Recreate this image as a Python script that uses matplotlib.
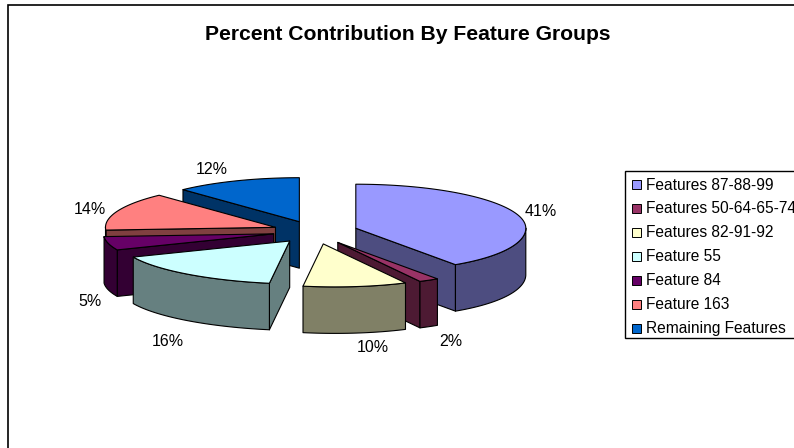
import numpy as np
import matplotlib
matplotlib.use("Agg")
from matplotlib import pyplot as plt
from matplotlib.patches import Polygon, Rectangle

plt.rcParams['font.family'] = ['Liberation Sans', 'DejaVu Sans']

labels = ["Features 87-88-99", "Features 50-64-65-74", "Features 82-91-92", "Feature 55",
          "Feature 84", "Feature 163", "Remaining Features"]
percents = [41, 2, 10, 16, 5, 14, 12]

colors = ["#9999FF", "#993366", "#FFFFCC", "#CCFFFF", "#660066", "#FF8080", "#0066CC"]
label_pos = [(541, 211), (451, 341), (373, 347), (168, 341), (90, 301), (90, 209), (212, 169)]

# pie geometry in pixels
cx, cy = 315, 231
rx, ry = 170, 44
depth = 46.5
explode = 0.25
explode_back, explode_front = 10, 13
front_skew = 12
front_drop = -1


def rim(theta):
    # point on the ellipse relative to the slice apex, front part leans right
    u, v = np.sin(theta), np.cos(theta)
    lean = np.minimum(v, 0) ** 2
    return rx * u + front_skew * lean, -ry * v + front_drop * lean


def darker(col):
    rgb = np.array(matplotlib.colors.to_rgb(col))
    return tuple(rgb * 0.5)


fig = plt.figure(figsize=(7.94, 4.48), dpi=100)
ax = fig.add_axes([0, 0, 1, 1])
ax.set_xlim(0, 794)
ax.set_ylim(448, 0)
ax.axis("off")

# chart frame, only top and left are inside the picture
ax.plot([7.5, 7.5, 794], [448, 5, 5], color="black", lw=1.2, solid_joinstyle="miter")

ax.text(408, 35, "Percent Contribution By Feature Groups", ha="center", va="center",
        fontsize=15.2, fontweight="bold")

fractions = np.array(percents) / sum(percents)
ends = np.cumsum(fractions) * 2 * np.pi
starts = ends - fractions * 2 * np.pi
mids = (starts + ends) / 2

# back slices first
order = np.argsort(-np.cos(mids))
for z, i in enumerate(order):
    t0, t1 = starts[i], ends[i]
    ox, _ = rim(mids[i])
    vm = np.cos(mids[i])
    ax0 = cx + explode * ox
    ay0 = cy - vm * (explode_back if vm > 0 else explode_front)
    n = max(int((t1 - t0) * 40), 4)
    th = np.linspace(t0, t1, n)
    xr, yr = rim(th)
    xr = xr + ax0
    yr = yr + ay0
    dark = darker(colors[i])
    style = dict(ec="black", lw=0.8, joinstyle="round", zorder=z + 2)

    # cut faces, only the ones turned towards us
    visible = []
    if np.sin(t0) < -1e-6:
        visible.append(0)
    if np.sin(t1) > 1e-6:
        visible.append(-1)
    for k in visible:
        quad = [(ax0, ay0), (xr[k], yr[k]), (xr[k], yr[k] + depth), (ax0, ay0 + depth)]
        ax.add_patch(Polygon(quad, fc=dark, **style))

    # outer wall, only the part facing us
    front = np.cos(th) <= 0.02
    if front.sum() > 1:
        xf, yf = xr[front], yr[front]
        wall = np.column_stack([np.r_[xf, xf[::-1]], np.r_[yf, yf[::-1] + depth]])
        ax.add_patch(Polygon(wall, fc=dark, **style))

    top = np.column_stack([np.r_[ax0, xr], np.r_[ay0, yr]])
    ax.add_patch(Polygon(top, fc=colors[i], **style))

for p, pos in zip(percents, label_pos):
    ax.text(pos[0], pos[1], f"{p}%", ha="center", va="center", fontsize=11.5, zorder=20)

# legend box, runs past the right edge like the original
ax.add_patch(Rectangle((625, 171.5), 190, 167, fc="white", ec="black", lw=1.0, zorder=20))
for i, name in enumerate(labels):
    y = 185 + i * 23.9
    ax.add_patch(Rectangle((631.5, y - 4.5), 9, 9, fc=colors[i], ec="black", lw=0.7, zorder=21))
    ax.text(646, y, name, ha="left", va="center", fontsize=11.2, zorder=21)

fig.savefig("out.png", dpi=100)
